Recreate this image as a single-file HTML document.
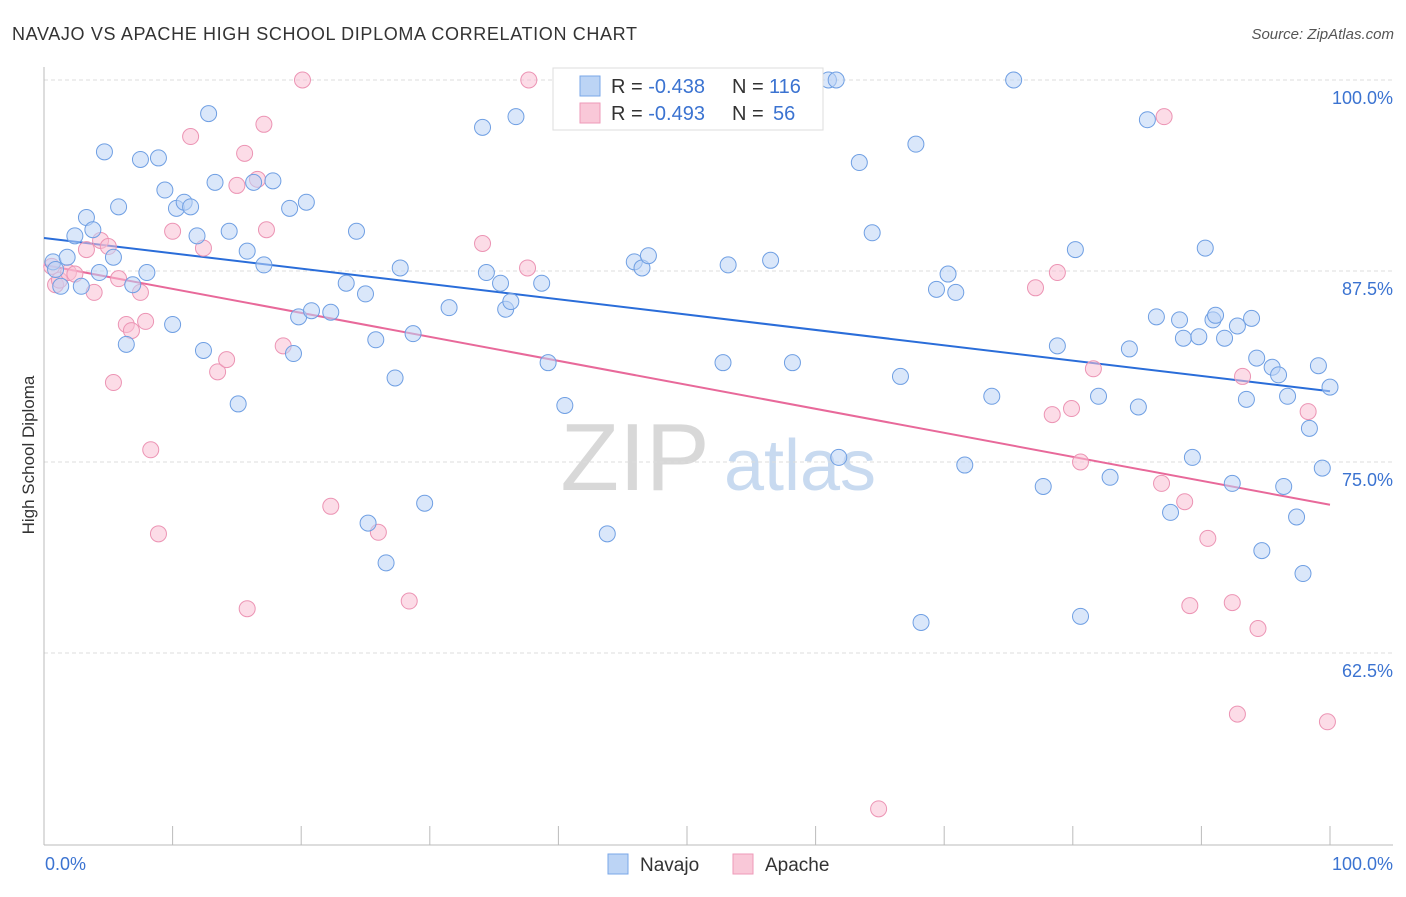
<!DOCTYPE html>
<html><head><meta charset="utf-8"><style>
body{margin:0;background:#fff;font-family:"Liberation Sans",sans-serif}
svg text{font-family:"Liberation Sans",sans-serif}
</style></head><body>
<svg id="chart" width="1406" height="892" xmlns="http://www.w3.org/2000/svg">
<text x="12" y="40" font-size="18" fill="#333" textLength="625" lengthAdjust="spacing">NAVAJO VS APACHE HIGH SCHOOL DIPLOMA CORRELATION CHART</text>
<text x="1394" y="39" font-size="15" fill="#555" text-anchor="end" font-style="italic">Source: ZipAtlas.com</text>
<text x="34" y="455" font-size="17" fill="#333" text-anchor="middle" transform="rotate(-90 34 455)">High School Diploma</text>
<g>
<text x="635" y="490" font-size="96" fill="#d8d8d8" font-family="Liberation Serif" text-anchor="middle">ZIP</text>
<text x="800" y="490" font-size="72" fill="#c8daf0" text-anchor="middle">atlas</text>
</g>
<g id="grid"></g><g id="axes"></g><g id="lines"></g><g id="pts"></g>
<g>
<rect x="553" y="68" width="270" height="62" fill="#fff" stroke="#ddd"/>
<rect x="580" y="76" width="20" height="20" fill="#bcd4f5" stroke="#7aa7e8"/>
<rect x="580" y="103" width="20" height="20" fill="#f9c8d8" stroke="#ee9ab8"/>
<text x="611" y="93" font-size="20" fill="#333">R = <tspan fill="#3b73d1">-0.438</tspan></text>
<text x="732" y="93" font-size="20" fill="#333">N =</text>
<text x="769" y="93" font-size="20" fill="#3b73d1">116</text>
<text x="611" y="120" font-size="20" fill="#333">R = <tspan fill="#3b73d1">-0.493</tspan></text>
<text x="732" y="120" font-size="20" fill="#333">N =</text>
<text x="773" y="120" font-size="20" fill="#3b73d1">56</text>
</g>
<g>
<rect x="608" y="854" width="20" height="20" fill="#bcd4f5" stroke="#7aa7e8"/>
<text x="640" y="871" font-size="19" fill="#333">Navajo</text>
<rect x="733" y="854" width="20" height="20" fill="#f9c8d8" stroke="#ee9ab8"/>
<text x="765" y="871" font-size="19" fill="#333">Apache</text>
</g>
</svg>
<script>
const yTicks=[100,87.5,75,62.5];
const yTickLabels=["100.0%","87.5%","75.0%","62.5%"];
const xTicks=[0,10,20,30,40,50,60,70,80,90,100];
const navajoX=[0.7,0.9,1.3,1.8,2.9,2.4,3.3,3.8,4.3,4.7,5.4,5.8,6.4,6.9,7.5,8.0,8.9,9.4,10.0,10.3,10.9,11.4,11.9,12.4,12.8,13.3,14.4,15.1,15.8,16.3,17.1,17.8,19.1,19.4,19.8,20.4,20.8,22.3,23.5,24.3,25.0,25.2,25.8,26.6,27.3,27.7,28.7,29.6,31.5,34.1,34.4,35.5,35.9,36.3,36.7,38.7,39.2,40.5,43.8,45.9,46.5,47.0,52.4,52.8,53.2,56.5,58.2,61.0,61.6,61.8,63.4,64.4,66.6,67.8,68.2,69.4,70.3,70.9,71.6,73.7,75.4,77.7,78.8,80.2,80.6,82.0,82.9,84.4,85.1,85.8,86.5,87.6,88.3,88.6,89.3,89.8,90.3,90.9,91.1,91.8,92.4,92.8,93.5,93.9,94.3,94.7,95.5,96.0,96.4,96.7,97.4,97.9,98.4,99.1,99.4,100];
const navajoY=[88.1,87.6,86.5,88.4,86.5,89.8,91.0,90.2,87.4,95.3,88.4,91.7,82.7,86.6,94.8,87.4,94.9,92.8,84.0,91.6,92.0,91.7,89.8,82.3,97.8,93.3,90.1,78.8,88.8,93.3,87.9,93.4,91.6,82.1,84.5,92.0,84.9,84.8,86.7,90.1,86.0,71.0,83.0,68.4,80.5,87.7,83.4,72.3,85.1,96.9,87.4,86.7,85.0,85.5,97.6,86.7,81.5,78.7,70.3,88.1,87.7,88.5,100,81.5,87.9,88.2,81.5,100,100,75.3,94.6,90.0,80.6,95.8,64.5,86.3,87.3,86.1,74.8,79.3,100,73.4,82.6,88.9,64.9,79.3,74.0,82.4,78.6,97.4,84.5,71.7,84.3,83.1,75.3,83.2,89.0,84.3,84.6,83.1,73.6,83.9,79.1,84.4,81.8,69.2,81.2,80.7,73.4,79.3,71.4,67.7,77.2,81.3,74.6,79.9];
const apacheX=[0.6,0.9,1.2,1.9,2.4,3.3,3.9,4.4,5.0,5.4,5.8,6.4,6.8,7.5,7.9,8.3,8.9,10.0,11.4,12.4,13.5,14.2,15.0,15.6,15.8,16.6,17.1,17.3,18.6,20.1,22.3,26.0,28.4,34.1,37.6,37.7,64.9,77.1,78.4,78.8,79.9,80.6,81.6,86.9,87.1,88.7,89.1,90.5,92.4,92.8,93.2,94.4,98.3,99.8];
const apacheY=[87.8,86.6,86.9,87.4,87.3,88.9,86.1,89.5,89.1,80.2,87.0,84.0,83.6,86.1,84.2,75.8,70.3,90.1,96.3,89.0,80.9,81.7,93.1,95.2,65.4,93.5,97.1,90.2,82.6,100,72.1,70.4,65.9,89.3,87.7,100,52.3,86.4,78.1,87.4,78.5,75.0,81.1,73.6,97.6,72.4,65.6,70.0,65.8,58.5,80.6,64.1,78.3,58.0];
const navajoTrend=[89.66,79.63];
const apacheTrend=[87.9,72.2];
const NS="http://www.w3.org/2000/svg";
const X=v=>44+v*12.86, Y=v=>80+(100-v)*15.28;
function mk(t,a,p){const e=document.createElementNS(NS,t);for(const k in a)e.setAttribute(k,a[k]);p.appendChild(e);return e;}
const grid=document.getElementById('grid'),axes=document.getElementById('axes'),lines=document.getElementById('lines'),pts=document.getElementById('pts');
yTicks.forEach((v,i)=>{
 const l=mk('line',{x1:44,x2:1393,y1:Y(v),y2:Y(v),stroke:'#ddd','stroke-dasharray':'4,3'},grid);
 
 
 const t=mk('text',{x:1393,y:Y(v)+24,'font-size':18,fill:'#3b73d1','text-anchor':'end'},grid);
 t.textContent=yTickLabels[i];
 
 
});
let a=mk('line',{x1:44,x2:44,y1:67,y2:845,stroke:'#bbb'},axes);


a=mk('line',{x1:44,x2:1393,y1:845,y2:845,stroke:'#bbb'},axes);


xTicks.forEach(v=>{const t=mk('line',{x1:X(v),x2:X(v),y1:826,y2:845,stroke:'#bbb'},axes);
 
 });
let t=mk('text',{x:45,y:870,'font-size':18,fill:'#3b73d1'},axes);t.textContent='0.0%';


t=mk('text',{x:1393,y:870,'font-size':18,fill:'#3b73d1','text-anchor':'end'},axes);t.textContent='100.0%';


function dots(xs,ys,fill,stroke,name){xs.forEach((x,i)=>{const c=mk('circle',{cx:X(x),cy:Y(ys[i]),r:8,fill:fill,'fill-opacity':0.55,stroke:stroke,'stroke-width':1},pts);
 
 });}
dots(apacheX,apacheY,'#f9c0d4','#ec94b4','apache-point');
dots(navajoX,navajoY,'#bcd4f5','#6f9fe3','navajo-point');
let ln=mk('line',{x1:X(0),y1:Y(navajoTrend[0]),x2:X(100),y2:Y(navajoTrend[1]),stroke:'#2a6dd9','stroke-width':2},lines);


ln=mk('line',{x1:X(0),y1:Y(apacheTrend[0]),x2:X(100),y2:Y(apacheTrend[1]),stroke:'#e8699a','stroke-width':2},lines);


</script>
</body></html>
